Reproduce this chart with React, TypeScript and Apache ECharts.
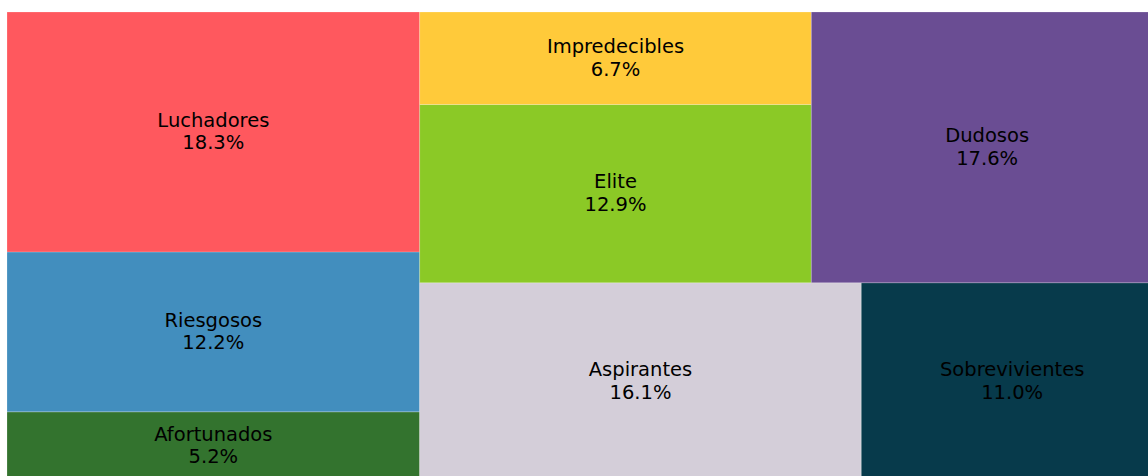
import React, { useEffect, useRef } from "react";
import * as echarts from "echarts";

const names = ["Afortunados", "Riesgosos", "Luchadores", "Aspirantes", "Sobrevivientes", "Elite", "Impredecibles", "Dudosos"];
const values = [5.2, 12.2, 18.3, 16.1, 11.0, 12.9, 6.7, 17.6];
const colors = ["#33732e", "#428ebe", "#ff585e", "#d4ced9", "#073a4b", "#8bc926", "#ffca3a", "#6a4d93"];

type R = { x: number; y: number; dx: number; dy: number };

// port of the squarify algorithm (normalised 100 x 100 space, y upward)
function layoutRow(sizes: number[], x: number, y: number, dx: number, dy: number): R[] {
  const w = sizes.reduce((a, b) => a + b, 0) / dy;
  const out: R[] = [];
  for (const s of sizes) { out.push({ x, y, dx: w, dy: s / w }); y += s / w; }
  return out;
}
function layoutCol(sizes: number[], x: number, y: number, dx: number, dy: number): R[] {
  const h = sizes.reduce((a, b) => a + b, 0) / dx;
  const out: R[] = [];
  for (const s of sizes) { out.push({ x, y, dx: s / h, dy: h }); x += s / h; }
  return out;
}
function layout(s: number[], x: number, y: number, dx: number, dy: number) {
  return dx >= dy ? layoutRow(s, x, y, dx, dy) : layoutCol(s, x, y, dx, dy);
}
function leftover(s: number[], x: number, y: number, dx: number, dy: number): [number, number, number, number] {
  const a = s.reduce((p, q) => p + q, 0);
  if (dx >= dy) { const w = a / dy; return [x + w, y, dx - w, dy]; }
  const h = a / dx; return [x, y + h, dx, dy - h];
}
function worst(s: number[], x: number, y: number, dx: number, dy: number) {
  return Math.max(...layout(s, x, y, dx, dy).map(r => Math.max(r.dx / r.dy, r.dy / r.dx)));
}
function squarify(s: number[], x: number, y: number, dx: number, dy: number): R[] {
  if (s.length === 0) return [];
  if (s.length === 1) return layout(s, x, y, dx, dy);
  let i = 1;
  while (i < s.length && worst(s.slice(0, i), x, y, dx, dy) >= worst(s.slice(0, i + 1), x, y, dx, dy)) i++;
  const cur = s.slice(0, i);
  const [lx, ly, ldx, ldy] = leftover(cur, x, y, dx, dy);
  return layout(cur, x, y, dx, dy).concat(squarify(s.slice(i), lx, ly, ldx, ldy));
}

export default function App() {
  const ref = useRef<HTMLDivElement>(null);
  useEffect(() => {
    if (!ref.current) return;
    const chart = echarts.init(ref.current, null, { renderer: "svg" });
    const total = values.reduce((a, b) => a + b, 0);
    const norm = values.map(v => (v * 100 * 100) / total);
    const rects = squarify(norm, 0, 0, 100, 100);
    const data = rects.map((r, i) => [r.x, r.y, r.dx, r.dy, i]);
    chart.setOption({
      animation: false,
      grid: { left: 7, top: 12, width: 1156, height: 468 },
      xAxis: { type: "value", min: 0, max: 100, show: false },
      yAxis: { type: "value", min: 0, max: 100, show: false },
      series: [
        {
          type: "custom",
          data,
          encode: { x: 0, y: 1 },
          renderItem: (params: any, api: any) => {
            const x = api.value(0), y = api.value(1), dx = api.value(2), dy = api.value(3);
            const idx = api.value(4);
            const p0 = api.coord([x, y + dy]);
            const p1 = api.coord([x + dx, y]);
            const pct = ((values[idx] / total) * 100).toFixed(1) + "%";
            return {
              type: "group",
              children: [
                {
                  type: "rect",
                  shape: { x: p0[0], y: p0[1], width: p1[0] - p0[0], height: p1[1] - p0[1] },
                  style: { fill: colors[idx], stroke: "rgba(255,255,255,0.2)", lineWidth: 1 },
                },
                {
                  type: "text",
                  style: {
                    text: names[idx] + "\n" + pct,
                    x: (p0[0] + p1[0]) / 2,
                    y: (p0[1] + p1[1]) / 2 - 0.5,
                    align: "center",
                    verticalAlign: "middle",
                    fontSize: 19.5,
                    lineHeight: 22.5,
                    fontFamily: "DejaVu Sans",
                    fill: "#000",
                  },
                },
              ],
            };
          },
        },
      ],
    });
    return () => chart.dispose();
  }, []);
  return (
    <div style={{ position: "fixed", left: 0, top: 0, width: 1148, height: 476, overflow: "hidden", background: "#fff" }}>
      <div ref={ref} style={{ width: 1163, height: 480 }} />
    </div>
  );
}
